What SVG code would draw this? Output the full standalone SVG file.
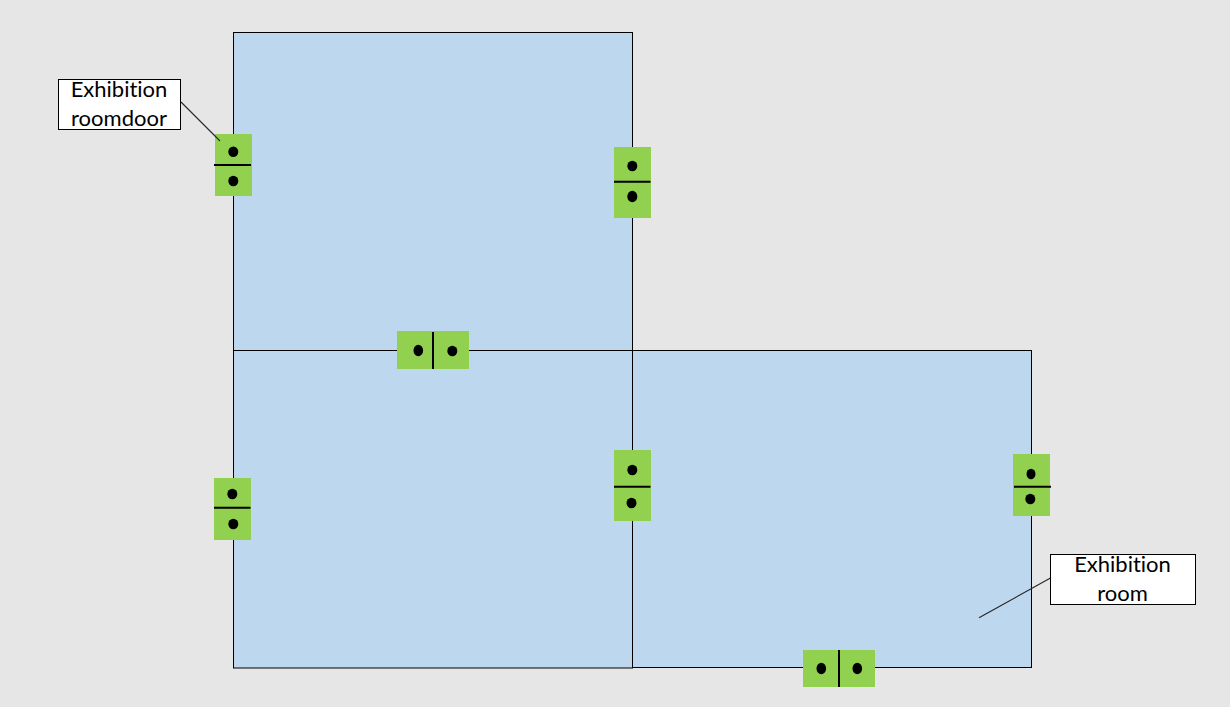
<svg xmlns="http://www.w3.org/2000/svg" width="1230" height="707" viewBox="0 0 1230 707">
<style>
.room{fill:#bdd7ee;stroke:#000;stroke-width:1}
.door{fill:#92d050}
.bar{stroke:#000;stroke-width:2;fill:none}
.pin{fill:#000}
.label{fill:#fff;stroke:#000;stroke-width:1}
.leader{stroke:#262626;stroke-width:1.1;fill:none}
text{font-family:"Lato","Open Sans","Liberation Sans",sans-serif;font-size:22px;fill:#000;text-anchor:middle;font-variant-ligatures:none}
</style>
<rect width="1230" height="707" fill="#e7e6e6"/>
<g id="room-top"><rect class="room" x="233.5" y="32.5" width="399" height="318"/></g>
<g id="room-lower-left"><rect class="room" x="233.5" y="350.5" width="399" height="317.5"/></g>
<g id="room-lower-right"><rect class="room" x="632.5" y="350.5" width="399" height="317"/></g>
<g id="door-1"><rect class="door" x="215" y="134" width="37" height="62"/><path class="bar" d="M214 165H251"/><ellipse class="pin" cx="233.3" cy="151.8" rx="5" ry="5.3"/><ellipse class="pin" cx="233.3" cy="181" rx="5" ry="5.3"/></g>
<g id="door-2"><rect class="door" x="614" y="147" width="37" height="71"/><path class="bar" d="M614 181.7H650.5"/><ellipse class="pin" cx="632.3" cy="166" rx="5" ry="5.3"/><ellipse class="pin" cx="632.3" cy="196.5" rx="5" ry="5.8"/></g>
<g id="door-3"><rect class="door" x="397" y="331" width="72" height="38"/><path class="bar" d="M433 332V369"/><ellipse class="pin" cx="418.3" cy="350.5" rx="4.8" ry="5.8"/><ellipse class="pin" cx="452.3" cy="351" rx="5" ry="5.3"/></g>
<g id="door-4"><rect class="door" x="614" y="450" width="37" height="71"/><path class="bar" d="M614 486.8H650.5"/><ellipse class="pin" cx="632.3" cy="470" rx="5" ry="5.3"/><ellipse class="pin" cx="631.5" cy="503" rx="5" ry="5.3"/></g>
<g id="door-5"><rect class="door" x="214" y="478" width="37" height="62"/><path class="bar" d="M214 507.8H250.5"/><ellipse class="pin" cx="232.3" cy="494" rx="5" ry="5.3"/><ellipse class="pin" cx="233.3" cy="524" rx="5" ry="5.3"/></g>
<g id="door-6"><rect class="door" x="1013" y="454" width="37" height="62"/><path class="bar" d="M1014 486.8H1051"/><ellipse class="pin" cx="1031" cy="474" rx="4.5" ry="5.3"/><ellipse class="pin" cx="1030.3" cy="499" rx="5" ry="5.3"/></g>
<g id="door-7"><rect class="door" x="803" y="650" width="72" height="37"/><path class="bar" d="M839 650V687"/><ellipse class="pin" cx="821.3" cy="668.5" rx="4.8" ry="5.8"/><ellipse class="pin" cx="857.3" cy="668.5" rx="4.8" ry="5.8"/></g>
<g id="connectors"><path class="leader" d="M181 102L220 141"/><path class="leader" d="M1050.5 578L979 617.7"/></g>
<g id="label-door"><rect class="label" x="58.5" y="79.5" width="122" height="50"/><text x="119" y="97">Exhibition</text><text x="119" y="126">roomdoor</text></g>
<g id="label-room"><rect class="label" x="1050.5" y="554.5" width="145" height="50"/><text x="1122.5" y="572">Exhibition</text><text x="1122.5" y="601">room</text></g>
</svg>
